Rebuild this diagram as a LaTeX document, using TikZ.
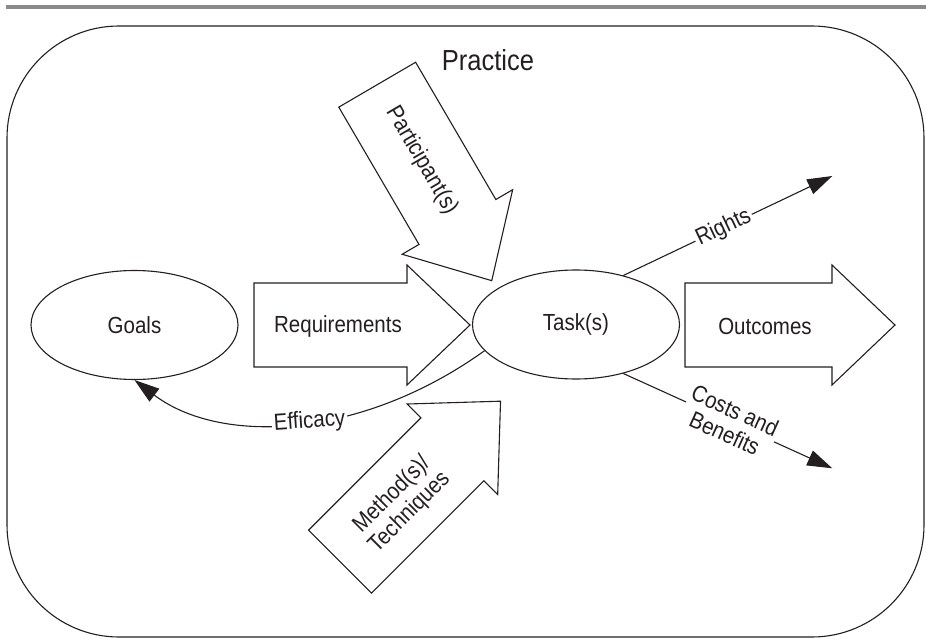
\documentclass[tikz,border=0pt]{standalone}
\usepackage{fontspec}
\setmainfont[FakeStretch=0.88]{Liberation Sans}
\usetikzlibrary{shapes.geometric, arrows.meta}
\definecolor{ink}{HTML}{231F20}
\definecolor{rule}{HTML}{8A8A8A}
\begin{document}
\begin{tikzpicture}[x=1pt, y=1pt,
  shapeline/.style={draw=ink, line width=1.1pt, line join=miter},
  fatarrow/.style={shapeline, fill=white},
  lbl/.style={font=\fontsize{23.3}{25}\selectfont, text=ink},
  bubble/.style={shapeline, ellipse, minimum width=207pt, minimum height=109pt, lbl},
  conn/.style={draw=ink, line width=1.1pt, -{Triangle[length=25pt, width=16pt]}},
  onconn/.style={lbl, fill=white, inner sep=2pt},
]
\useasboundingbox (0,0) rectangle (926,-639);

% header rule and frame
\fill[rule] (6,-5.2) rectangle (926,-9.2);
\draw[draw=ink, line width=1.1pt, rounded corners=112pt] (7,-26) rectangle (924,-637);
\node[lbl, font=\fontsize{29}{32}\selectfont] (practice) at (488,-60) {Practice};

% goals and tasks
\node[bubble] (goals) at (134.5,-325) {Goals};
\node[bubble] (task) at (576,-324.5) {Task(s)};

% requirements and outcomes block arrows
\draw[fatarrow] (254,-283) -- (407,-283) -- (407,-265) -- (470,-325) -- (407,-385) -- (407,-367) -- (254,-367) -- cycle;
\node[lbl] (req) at (338,-326) {Requirements};
\draw[fatarrow] (685,-283) -- (832,-283) -- (832,-265) -- (895,-325) -- (832,-385) -- (832,-367) -- (685,-367) -- cycle;
\node[lbl] (out) at (765,-326) {Outcomes};

% participants block arrow
\begin{scope}[shift={(377.2,-84.7)}, rotate=-59.7]
  \draw[fatarrow] (0,44.5) -- (159,44.5) -- (159,64) -- (227,0) -- (159,-64) -- (159,-44.5) -- (0,-44.5) -- cycle;
  \node[lbl, rotate=-59.7] (part) at (88,0) {Participant(s)};
\end{scope}

% methods block arrow
\begin{scope}[shift={(340,-561.7)}, rotate=45]
  \draw[fatarrow] (0,44.5) -- (159,44.5) -- (159,64) -- (227,0) -- (159,-64) -- (159,-44.5) -- (0,-44.5) -- cycle;
  \node[lbl, rotate=45, align=center] (meth) at (84,-2) {Method(s)/\\Techniques};
\end{scope}

% connectors leaving the task
\coordinate (rightsEnd) at (832.3,-176);
\coordinate (costsEnd) at (832.3,-468.3);
\draw[conn] (task.46) -- node[onconn, sloped, pos=0.48] (rights) {Rights} (rightsEnd);
\draw[conn] (task.-46) -- node[onconn, sloped, pos=0.51, align=center] (costs) {Costs and\\Benefits} (costsEnd);
\draw[conn] (task.196) .. controls (360,-440) and (220,-445) .. (goals.south)
  node[onconn, pos=0.46, rotate=4] (eff) {Efficacy};
\end{tikzpicture}
\end{document}
